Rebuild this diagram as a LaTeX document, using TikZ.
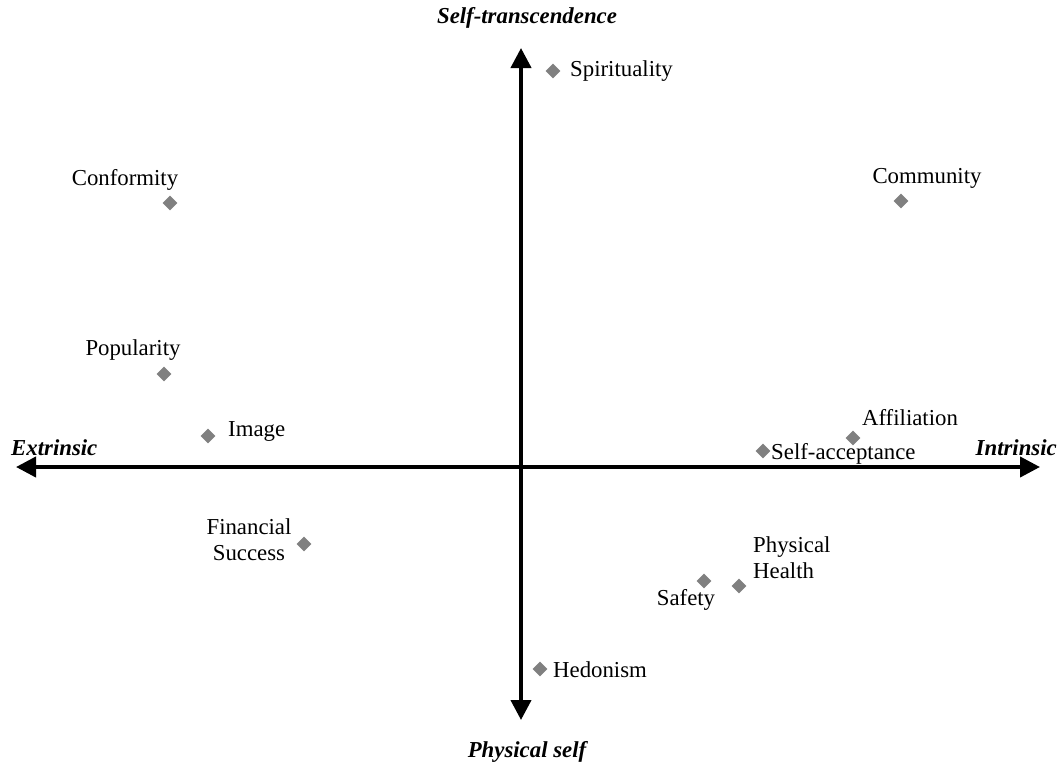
\documentclass[tikz,border=0pt]{standalone}
\usepackage{fontspec}
\setmainfont{Liberation Serif}
\usepackage{xcolor}
\usetikzlibrary{arrows.meta,shapes.geometric}
\definecolor{markgray}{HTML}{808080}
\tikzset{
  axis/.style={line width=4pt, {Triangle[length=20pt,width=20pt]}-{Triangle[length=20pt,width=20pt]}},
  valpt/.style={diamond, fill=markgray, inner sep=0pt, minimum size=15pt},
  lbl/.style={inner sep=0pt, font=\fontsize{22.8}{26}\selectfont},
  axlbl/.style={inner sep=0pt, font=\fontsize{22.8}{26}\selectfont\bfseries\itshape}
}
\begin{document}
\begin{tikzpicture}[x=1pt, y=-1pt]
    \useasboundingbox (0,0) rectangle (1059,766);
    % axes
    \coordinate (west) at (16,467);
    \coordinate (east) at (1040,467);
    \coordinate (north) at (521,48);
    \coordinate (south) at (521,720);
    \draw[axis] (west) -- (east);
    \draw[axis] (south) -- (north);

    \node[axlbl, anchor=west] (extr) at (11,448) {Extrinsic};
    \node[axlbl, anchor=east] (intr) at (1057,448) {Intrinsic};
    \node[axlbl] (trans) at (527,18) {Self-transcendence};
    \node[axlbl] (phys) at (527,752) {Physical self};

    % values
    \node[valpt] (spir) at (553,71) {};
    \node[lbl, anchor=west] (spirl) at (570,71) {Spirituality};

    \node[valpt] (conf) at (170,203) {};
    \node[lbl] (confl) at (125,180) {Conformity};

    \node[valpt] (comm) at (901,201) {};
    \node[lbl] (comml) at (927,178) {Community};

    \node[valpt] (popu) at (164,374) {};
    \node[lbl] (popul) at (133,350) {Popularity};

    \node[valpt] (imag) at (208,436) {};
    \node[lbl, anchor=west] (imagl) at (228,431) {Image};

    \node[valpt] (affi) at (853,438) {};
    \node[lbl] (affil) at (910,418) {Affiliation};

    \node[valpt] (sacc) at (763,451) {};
    \node[lbl, anchor=west] (saccl) at (771,454) {Self-acceptance};

    \node[valpt] (fina) at (304,544) {};
    \node[lbl, align=center] (final) at (249,540) {Financial\\Success};

    \node[valpt] (heal) at (739,586) {};
    \node[lbl, align=left, anchor=west] (heall) at (753,558) {Physical\\Health};

    \node[valpt] (safe) at (704,581) {};
    \node[lbl] (safel) at (686,600) {Safety};

    \node[valpt] (hedo) at (540,669) {};
    \node[lbl, anchor=west] (hedol) at (553,670) {Hedonism};
\end{tikzpicture}
\end{document}
